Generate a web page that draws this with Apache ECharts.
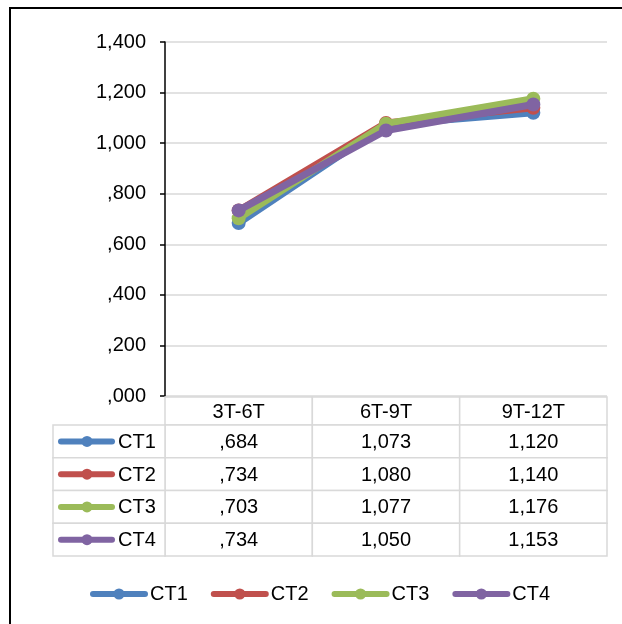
<!DOCTYPE html>
<html>
<head>
<meta charset="utf-8">
<script src="https://cdn.jsdelivr.net/npm/echarts@6/dist/echarts.min.js"></script>
<style>
html,body{margin:0;padding:0;background:#fff;}
#chart{width:622px;height:624px;}
</style>
</head>
<body>
<div id="chart"></div>
<script>
const categories = ['3T-6T', '6T-9T', '9T-12T'];
const seriesNames = ['CT1', 'CT2', 'CT3', 'CT4'];
const ct1 = [0.684, 1.073, 1.120];
const ct2 = [0.734, 1.080, 1.140];
const ct3 = [0.703, 1.077, 1.176];
const ct4 = [0.734, 1.050, 1.153];
const seriesValues = [ct1, ct2, ct3, ct4];
const colors = ['#4F81BD', '#C0504D', '#9BBB59', '#8064A2'];
const yMin = 0, yMax = 1.4, yStep = 0.2;

const FONT = '"Liberation Sans", Arial, sans-serif';
const FS = 20;
const BORDER = '#d9d9d9';

function fmt(v) {
  const s = v.toFixed(3).replace('.', ',');
  return s.charAt(0) === '0' ? s.slice(1) : s;
}

const chart = echarts.init(document.getElementById('chart'), null, {renderer: 'canvas'});

const lineSeries = seriesNames.map((n, i) => ({
  name: n,
  type: 'line',
  xAxisIndex: 0,
  yAxisIndex: 0,
  data: seriesValues[i],
  symbol: 'circle',
  symbolSize: 14,
  showSymbol: true,
  lineStyle: {width: 7, color: colors[i]},
  itemStyle: {color: colors[i]},
  z: 2 + i
}));

const bodyData = [];
seriesValues.forEach((vals, r) => vals.forEach((v, c) => bodyData.push([c, r, v])));
const headerData = categories.map((c, i) => [i, 0]);
const keyData = seriesNames.map((n, i) => [0, i]);

function cellRect(api, c) {
  const s = api.size([1, 1]);
  return {x: c[0] - s[0] / 2, y: c[1] - s[1] / 2, width: s[0], height: s[1]};
}

const option = {
  animation: false,
  color: colors,
  grid: [
    {left: 165, top: 42, width: 442, height: 354},
    {left: 165, top: 397, width: 442, height: 28},
    {left: 165, top: 425, width: 442, height: 131},
    {left: 53, top: 425, width: 112, height: 131}
  ],
  xAxis: [
    {type: 'category', gridIndex: 0, data: categories, boundaryGap: true,
     axisLine: {show: false}, axisTick: {show: false}, axisLabel: {show: false}, splitLine: {show: false}},
    {type: 'category', gridIndex: 1, data: categories, show: false},
    {type: 'category', gridIndex: 2, data: categories, show: false},
    {type: 'category', gridIndex: 3, data: ['k'], show: false}
  ],
  yAxis: [
    {type: 'value', gridIndex: 0, min: yMin, max: yMax, interval: yStep,
     axisLine: {show: true, lineStyle: {color: '#000', width: 1.5}},
     axisTick: {show: true, length: 5, lineStyle: {color: '#000', width: 1.5}},
     axisLabel: {formatter: fmt, margin: 19, color: '#000', fontSize: FS, fontFamily: FONT},
     splitLine: {show: true, lineStyle: {color: BORDER, width: 1.5}}},
    {type: 'category', gridIndex: 1, data: [''], show: false},
    {type: 'category', gridIndex: 2, data: seriesNames, inverse: true, show: false},
    {type: 'category', gridIndex: 3, data: seriesNames, inverse: true, show: false}
  ],
  legend: {
    data: seriesNames,
    left: 90,
    top: 584,
    padding: 0,
    itemWidth: 52,
    itemHeight: 14,
    itemGap: 23,
    lineStyle: {width: 6, cap: 'round'},
    textStyle: {fontSize: FS, fontFamily: FONT, color: '#000'}
  },
  graphic: [
    {type: 'rect', shape: {x: 10, y: 8, width: 800, height: 800},
     style: {fill: 'none', stroke: '#000', lineWidth: 2}, silent: true, z: 100}
  ],
  series: lineSeries.concat([
    {
      name: 'tableHeader', type: 'custom', xAxisIndex: 1, yAxisIndex: 1,
      data: headerData, encode: {x: 0, y: 1},
      renderItem: (params, api) => {
        const c = api.coord([api.value(0), api.value(1)]);
        return {type: 'group', children: [
          {type: 'rect', shape: cellRect(api, c), style: {fill: '#fff', stroke: BORDER, lineWidth: 1.5}},
          {type: 'text', style: {text: categories[api.value(0)], x: c[0], y: c[1] + 1, align: 'center', verticalAlign: 'middle',
            fontSize: FS, fontFamily: FONT, fill: '#000'}}
        ]};
      }
    },
    {
      name: 'tableBody', type: 'custom', xAxisIndex: 2, yAxisIndex: 2,
      data: bodyData, encode: {x: 0, y: 1},
      renderItem: (params, api) => {
        const c = api.coord([api.value(0), api.value(1)]);
        return {type: 'group', children: [
          {type: 'rect', shape: cellRect(api, c), style: {fill: '#fff', stroke: BORDER, lineWidth: 1.5}},
          {type: 'text', style: {text: fmt(api.value(2)), x: c[0], y: c[1] + 1, align: 'center', verticalAlign: 'middle',
            fontSize: FS, fontFamily: FONT, fill: '#000'}}
        ]};
      }
    },
    {
      name: 'tableKeys', type: 'custom', xAxisIndex: 3, yAxisIndex: 3,
      data: keyData, encode: {x: 0, y: 1},
      renderItem: (params, api) => {
        const idx = api.value(1);
        const c = api.coord([api.value(0), idx]);
        const r = cellRect(api, c);
        const col = colors[idx];
        return {type: 'group', children: [
          {type: 'rect', shape: r, style: {fill: '#fff', stroke: BORDER, lineWidth: 1.5}},
          {type: 'line', shape: {x1: r.x + 8, y1: c[1], x2: r.x + 59, y2: c[1]},
           style: {stroke: col, lineWidth: 6, lineCap: 'round'}},
          {type: 'circle', shape: {cx: r.x + 34, cy: c[1], r: 5.5}, style: {fill: col}},
          {type: 'text', style: {text: seriesNames[idx], x: r.x + 65, y: c[1] + 1, align: 'left', verticalAlign: 'middle',
            fontSize: FS, fontFamily: FONT, fill: '#000'}}
        ]};
      }
    }
  ])
};
chart.setOption(option);
</script>
</body>
</html>
